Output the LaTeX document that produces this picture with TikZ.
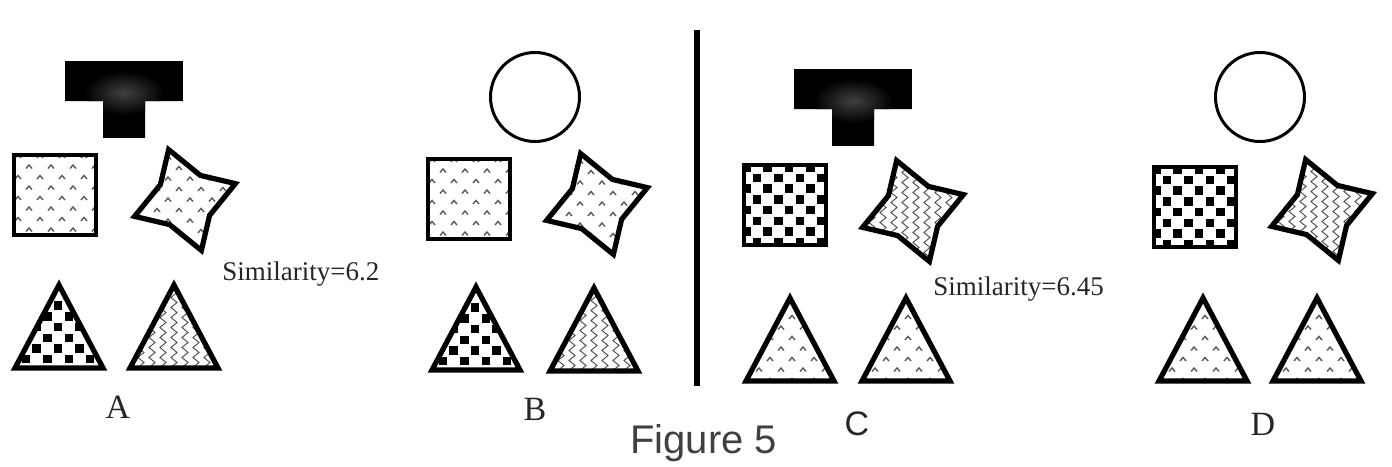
\documentclass[tikz,border=0pt]{standalone}
\usepackage{fontspec}
\setmainfont{Liberation Serif}
\newfontfamily\labsans{Liberation Sans}
\usetikzlibrary{calc,decorations.pathmorphing}

\tikzset{
  caret/.style={gray!70!black, line width=0.7pt},
  wave/.style={gray!65!black, line width=0.5pt, decorate,
    decoration={zigzag, segment length=5pt, amplitude=1.5pt}},
  triline/.style={line width=2.6pt},
  sqline/.style={line width=2pt},
  starline/.style={line width=2.6pt},
  letterlab/.style={font=\fontsize{17}{20}\selectfont, inner sep=0pt, black!85},
  simtext/.style={font=\fontsize{13.5}{16}\selectfont, inner sep=0pt, black!85},
}

\newcommand{\carets}[1]{% grey carets on a staggered grid, from (#1)
  \foreach \row [evaluate=\row as \off using {mod(\row,2)*11}] in {0,...,11}
    \foreach \col in {0,...,5}
      \draw[caret] ($(#1)+(\col*22+\off+3,\row*10.5+5)$) -- ++(3,-3.5) -- ++(3,3.5);
}
\newcommand{\checks}[1]{% black checker squares, from (#1)
  \foreach \row [evaluate=\row as \off using {mod(\row,2)*10.7}] in {0,...,11}
    \foreach \col in {0,...,5}
      \fill ($(#1)+(\col*21.4+\off,\row*10.7)$) rectangle ++(8.5,8.5);
}
\newcommand{\waves}[1]{% grey vertical zigzags, from (#1)
  \foreach \col in {0,...,10}
    \draw[wave] ($(#1)+(\col*11+4,0)$) -- ++(0,118);
}

\newcommand{\tblock}[1]{% T block, top-left corner of the bar at (#1)
  \begin{scope}
    \clip (#1) -- ++(118,0) -- ++(0,40) -- ++(-38,0) -- ++(0,37)
      -- ++(-42,0) -- ++(0,-37) -- ++(-38,0) -- cycle;
    \fill (#1) rectangle ++(118,77);
    \shade[inner color=black!75, outer color=black]
      ($(#1)+(59,32)$) ellipse[x radius=40, y radius=22];
  \end{scope}
}
\newcommand{\sqshape}[2]{% square, top-left corner at (#1), texture #2
  \coordinate (tex) at (#1);
  \begin{scope}
    \clip ($(#1)+(2,2)$) rectangle ++(82,80);
    #2{tex}
  \end{scope}
  \draw[sqline] ($(#1)+(2,2)$) rectangle ++(82,80);
}
\newcommand{\trishape}[2]{% triangle, apex at (#1), texture #2
  \coordinate (tex) at ($(#1)+(-48,0)$);
  \begin{scope}
    \clip ($(#1)+(0,5)$) -- ++(44,83) -- ++(-88,0) -- cycle;
    #2{tex}
  \end{scope}
  \draw[triline] ($(#1)+(0,5)$) -- ++(44,83) -- ++(-88,0) -- cycle;
}
\newcommand{\starshape}[2]{% four-point star centred at (#1), texture #2
  \coordinate (tex) at ($(#1)+(-56,-56)$);
  \begin{scope}
    \clip ($(#1)+(-18:53)$) -- ($(#1)+(32:29)$) -- ($(#1)+(72:53)$)
      -- ($(#1)+(122:29)$) -- ($(#1)+(162:53)$) -- ($(#1)+(212:29)$)
      -- ($(#1)+(252:53)$) -- ($(#1)+(302:29)$) -- cycle;
    #2{tex}
  \end{scope}
  \draw[starline] ($(#1)+(-18:53)$) -- ($(#1)+(32:29)$) -- ($(#1)+(72:53)$)
    -- ($(#1)+(122:29)$) -- ($(#1)+(162:53)$) -- ($(#1)+(212:29)$)
    -- ($(#1)+(252:53)$) -- ($(#1)+(302:29)$) -- cycle;
}

\begin{document}
\begin{tikzpicture}[x=0.5pt,y=-0.5pt]
  \useasboundingbox (0,0) rectangle (1392,466);

  % A
  \tblock{65,61}
  \sqshape{12,153}{\carets}
  \starshape{185,200}{\carets}
  \trishape{59,280}{\checks}
  \trishape{174,280}{\waves}
  \node[letterlab, anchor=base] (labA) at (118,418) {A};
  \node[simtext, anchor=base west] (simAB) at (222,280) {Similarity=6.2};

  % B
  \draw[line width=1.5pt] (535,97) circle[radius=44.5];
  \sqshape{426,157}{\carets}
  \starshape{597,204}{\carets}
  \trishape{476,282}{\checks}
  \trishape{594,283}{\waves}
  \node[letterlab, anchor=base] (labB) at (535,420) {B};

  % divider
  \draw[line width=3pt] (696.5,30) -- (696.5,386);

  % C
  \tblock{794,69}
  \sqshape{742,163}{\checks}
  \starshape{913,211}{\waves}
  \trishape{790,293}{\carets}
  \trishape{906,293}{\carets}
  \node[letterlab, anchor=base, font=\labsans\fontsize{17}{20}\selectfont] (labC) at (857,435) {C};
  \node[simtext, anchor=base west] (simCD) at (933,295) {Similarity=6.45};

  % D
  \draw[line width=1.5pt] (1260,97) circle[radius=44.5];
  \sqshape{1152,165}{\checks}
  \starshape{1322,210}{\waves}
  \trishape{1203,293}{\carets}
  \trishape{1317,293}{\carets}
  \node[letterlab, anchor=base] (labD) at (1263,435) {D};

  \node[anchor=base west, inner sep=0pt, black!75, font=\labsans\fontsize{20}{24}\selectfont]
    (fig) at (630,453) {Figure 5};
\end{tikzpicture}
\end{document}
